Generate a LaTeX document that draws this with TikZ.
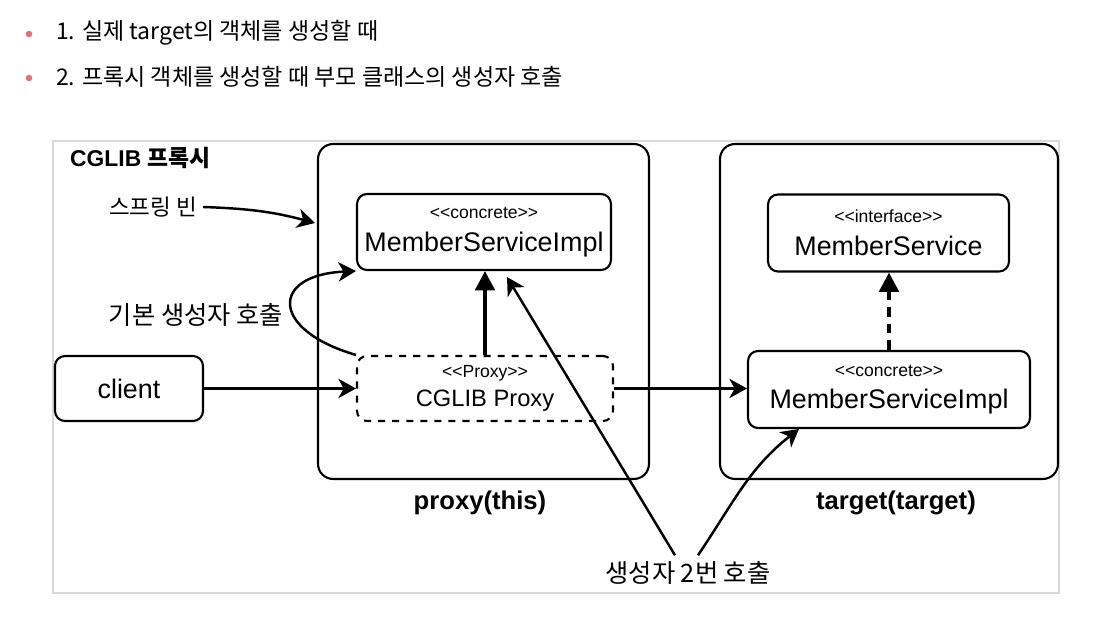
\documentclass[tikz,border=0pt]{standalone}
\usepackage{fontspec}
\setmainfont{Liberation Sans}[Ligatures=TeXOff]
\newfontfamily\kr{Noto Sans CJK KR}
\usetikzlibrary{arrows.meta}

\definecolor{bulletred}{RGB}{228,112,118}
\definecolor{framegray}{RGB}{216,216,216}

% stereotype line on top of a class name
\newcommand\stereo[1]{{\fontsize{10}{12}\selectfont <<#1>>}\\}

\begin{document}
\begin{tikzpicture}[x=0.02cm, y=-0.02cm,
    box/.style={draw, line width=1.2pt, rounded corners=0.2cm, inner sep=0pt, align=center, font=\fontsize{15.3}{18.5}\selectfont},
    bean/.style={draw, line width=1.2pt, rounded corners=0.3cm, minimum height=6.7cm},
    title/.style={font=\bfseries\fontsize{14.6}{17}\selectfont},
    note/.style={font=\kr\fontsize{14.4}{17}\selectfont},
    bullet/.style={font=\kr\fontsize{13.1}{15}\selectfont, anchor=west},
    sketch/.style={line width=1.4pt, -{Stealth[length=10pt, width=11pt, inset=3pt]}},
    inherit/.style={line width=2.3pt, -{Triangle[length=11pt, width=11pt]}},
    realize/.style={inherit, dash pattern=on 5.5pt off 4pt},
]
    \useasboundingbox (0,0) rectangle (1100,624);

    % Bullet lines on top
    \fill[bulletred] (29,34) circle (0.065cm);
    \fill[bulletred] (29,78) circle (0.065cm);
    \node[bullet] (line1) at (50,33) {1. 실제 target의 객체를 생성할 때};
    \node[bullet] (line2) at (50,77) {2. 프록시 객체를 생성할 때 부모 클래스의 생성자 호출};

    % Frame of the diagram
    \draw[framegray, line width=1.1pt] (53,141) rectangle (1059,593);
    \node[anchor=west, font=\bfseries\fontsize{13}{15}\selectfont] (cglibtitle) at (64,158) {CGLIB {\kr 프록시}};

    % Define the positions of the nodes
    \node[bean, minimum width=6.62cm] (proxybox) at (483.5,311.5) {};
    \node[bean, minimum width=6.76cm] (targetbox) at (889,311.5) {};

    \node[box, minimum width=5.08cm, minimum height=1.52cm] (msimpl) at (484,232) {\stereo{concrete}MemberServiceImpl};
    \node[box, minimum width=4.82cm, minimum height=1.54cm] (iface) at (888.5,233) {\stereo{interface}MemberService};
    \node[box, dash pattern=on 4pt off 4pt, minimum width=5.12cm, minimum height=1.3cm,
          font=\fontsize{13.5}{16.5}\selectfont] (cglib) at (485,388.5) {\stereo{Proxy}CGLIB Proxy};
    \node[box, minimum width=5.64cm, minimum height=1.54cm] (timpl) at (889,389.5) {\stereo{concrete}MemberServiceImpl};
    \node[box, minimum width=2.96cm, minimum height=1.3cm] (client) at (129,388.5) {client};

    \node[title] (proxylbl) at (480,503) {proxy(this)};
    \node[title] (targetlbl) at (896,503) {target(target)};

    \node[note, font=\kr\fontsize{12.8}{15}\selectfont] (beanlbl) at (153,207) {스프링 빈};
    \node[note] (ctorlbl) at (196,315) {기본 생성자 호출};
    \node[note] (twicelbl) at (688,573) {생성자 2번 호출};

    \coordinate (beantip) at (315,223);
    \coordinate (msimplhit) at (507,277);
    \coordinate (timplhit) at (799,429);

    % Draw the edges
    \draw[inherit] (cglib.north) -- (cglib.north |- msimpl.south);
    \draw[realize] (timpl.north) -- (timpl.north |- iface.south);

    \draw[sketch] (client) -- (cglib);
    \draw[sketch] (cglib.east) -- (cglib.east -| timpl.west);

    \draw[sketch] (beanlbl.east) to[out=-2,in=165] (beantip);
    \draw[sketch] (cglib.north west) .. controls (270,330) and (270,275) .. (msimpl.south west);

    \draw[sketch] ([xshift=-0.26cm]twicelbl.north) -- (msimplhit);
    \draw[sketch] ([xshift=0.2cm]twicelbl.north) to[out=56,in=218] (timplhit);
\end{tikzpicture}
\end{document}
